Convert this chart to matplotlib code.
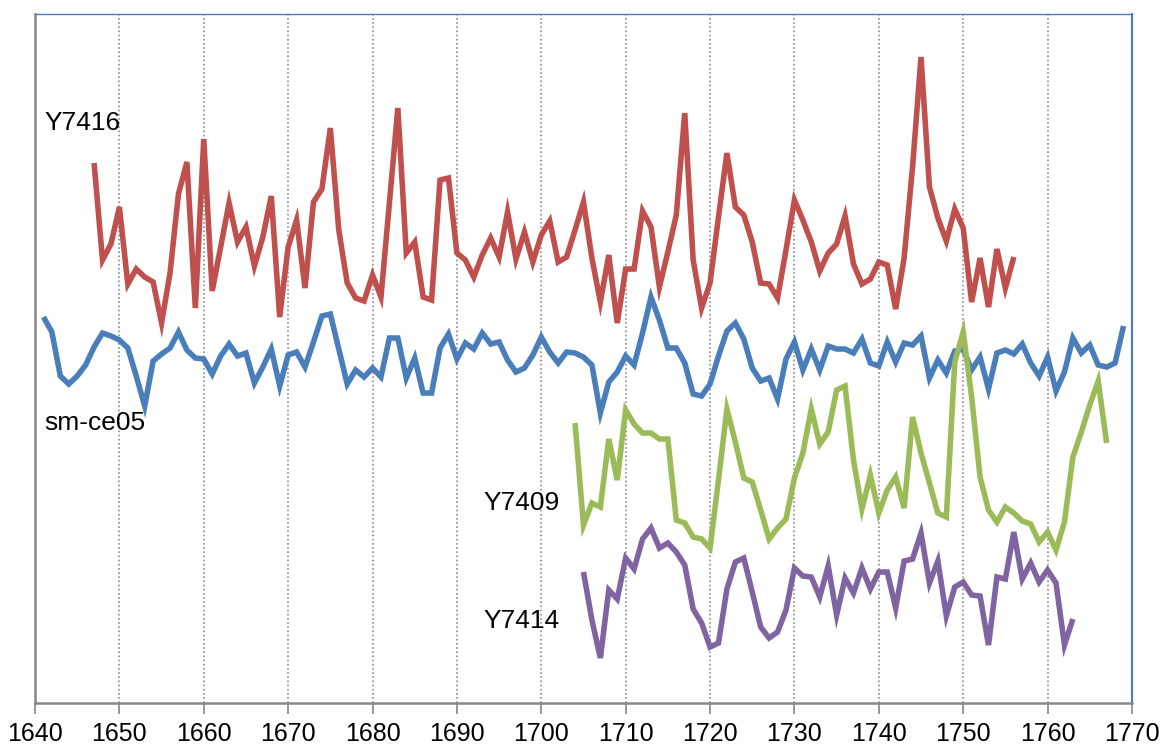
import matplotlib
matplotlib.use("Agg")
import matplotlib.pyplot as plt
import numpy as np

# -----------------------------------
# SERIES DATA (index units, offset per record)
# -----------------------------------

y7416_start = 1647
y7416 = [
    54.0, 44.3, 45.9, 49.6, 41.9, 43.4, 42.6, 42.1, 38.0, 43.0,
    50.9, 54.1, 39.5, 56.4, 41.2, 45.6, 50.0, 46.1, 47.6, 43.7,
    46.6, 50.7, 38.6, 45.6, 48.3, 41.5, 50.1, 51.4, 57.5, 47.3,
    42.0, 40.5, 40.2, 42.8, 40.6, 50.0, 59.5, 45.0, 46.1, 40.6,
    40.3, 52.3, 52.5, 45.0, 44.3, 42.6, 44.8, 46.5, 44.6, 49.1,
    44.4, 47.1, 44.1, 46.8, 48.2, 44.1, 44.6, 47.3, 50.1, 44.5,
    40.1, 44.8, 38.0, 43.4, 43.4, 49.2, 47.6, 41.6, 45.1, 48.8,
    59.0, 44.3, 39.5, 42.0, 48.6, 55.0, 49.6, 48.8, 46.1, 42.0,
    41.9, 40.5, 45.3, 50.3, 48.3, 46.1, 43.2, 45.0, 45.9, 48.7,
    43.9, 41.9, 42.4, 44.1, 43.8, 39.4, 44.5, 53.6, 64.6, 51.6,
    48.5, 46.2, 49.4, 47.5, 40.1, 44.5, 39.6, 45.4, 41.5, 44.6,
]

smce05_start = 1641
smce05 = [
    38.6, 37.1, 32.7, 31.9, 32.7, 33.8, 35.6, 37.0, 36.7, 36.3,
    35.5, 32.7, 29.7, 34.2, 34.9, 35.5, 37.1, 35.3, 34.5, 34.4,
    32.9, 34.7, 35.9, 34.7, 35.0, 32.0, 33.6, 35.4, 31.7, 34.8,
    35.1, 33.6, 36.1, 38.7, 38.9, 35.4, 31.9, 33.3, 32.6, 33.5,
    32.6, 36.5, 36.5, 32.5, 34.5, 31.0, 31.0, 35.5, 36.9, 34.4,
    36.0, 35.4, 37.0, 35.9, 36.1, 34.3, 33.1, 33.5, 34.8, 36.6,
    35.1, 34.0, 35.1, 35.0, 34.6, 33.8, 29.0, 32.1, 33.1, 34.7,
    33.8, 37.0, 40.6, 38.3, 35.5, 35.5, 34.0, 30.9, 30.7, 31.9,
    34.7, 37.2, 38.0, 36.4, 33.5, 32.2, 32.5, 30.4, 34.4, 36.1,
    33.3, 35.4, 33.3, 35.7, 35.4, 35.4, 35.0, 36.4, 34.0, 33.7,
    36.1, 34.1, 36.0, 35.8, 36.7, 32.5, 34.3, 33.0, 35.2, 35.4,
    33.3, 34.6, 31.4, 35.0, 35.3, 34.9, 35.9, 34.0, 32.7, 34.6,
    31.2, 33.1, 36.5, 35.0, 35.8, 33.8, 33.6, 34.0, 37.7,
]

y7409_start = 1704
y7409 = [
    28.0, 17.8, 20.0, 19.6, 26.4, 22.3, 29.3, 27.9, 27.0, 27.0,
    26.4, 26.4, 18.3, 18.0, 16.6, 16.4, 15.5, 22.3, 29.4, 26.1,
    22.5, 22.1, 19.3, 16.4, 17.5, 18.4, 22.5, 25.0, 29.4, 25.9,
    27.1, 31.3, 31.7, 24.3, 19.4, 22.8, 19.0, 21.3, 22.6, 19.5,
    28.6, 25.0, 22.0, 19.0, 18.6, 34.1, 37.1, 30.6, 22.6, 19.3,
    18.1, 19.6, 19.0, 18.2, 17.9, 16.1, 17.1, 15.3, 18.1, 24.6,
    27.1, 29.8, 32.2, 26.0,
]

y7414_start = 1705
y7414 = [
    13.1, 8.3, 4.5, 11.3, 10.4, 14.5, 13.4, 16.4, 17.5, 15.5,
    16.0, 15.1, 13.8, 9.4, 8.0, 5.6, 6.0, 11.4, 14.1, 14.5,
    11.1, 7.6, 6.5, 7.1, 9.3, 13.5, 12.7, 12.6, 10.6, 13.7,
    8.8, 12.5, 11.0, 13.5, 11.4, 13.1, 13.1, 9.5, 14.2, 14.4,
    17.0, 12.0, 14.2, 8.7, 11.6, 12.1, 10.8, 10.7, 5.8, 12.6,
    12.4, 17.1, 12.4, 14.0, 12.1, 13.3, 12.0, 5.8, 8.4,
]

series_names = ["Y7416", "sm-ce05", "Y7409", "Y7414"]
series_colors = ["#C0504D", "#4A7EBB", "#9BBB59", "#8064A2"]

# label anchor (year, value) for each series name
label_years = [1641.1, 1641.1, 1693.2, 1693.1]
label_values = [58.0, 28.0, 20.0, 8.2]

x_ticks = np.arange(1640, 1771, 10)

# -----------------------------------
# FIGURE
# -----------------------------------

fig = plt.figure(figsize=(11.63, 7.46), dpi=100)
ax = fig.add_axes([0.0301, 0.0576, 0.9432, 0.9236])

series = [
    (y7416_start, y7416),
    (smce05_start, smce05),
    (y7409_start, y7409),
    (y7414_start, y7414),
]

for (start, values), color in zip(series, series_colors):
    years = np.arange(start, start + len(values))
    ax.plot(
        years,
        values,
        color=color,
        linewidth=4.0,
        solid_joinstyle="miter",
        solid_capstyle="butt",
        zorder=3
    )

# -----------------------------------
# SERIES LABELS
# -----------------------------------

for name, lx, ly in zip(series_names, label_years, label_values):
    ax.text(
        lx,
        ly,
        name,
        ha="left",
        va="center",
        fontsize=19,
        family=["Liberation Sans", "DejaVu Sans"],
        color="black"
    )

# -----------------------------------
# AXES
# -----------------------------------

ax.set_xlim(1640, 1770)
ax.set_ylim(0, 68.9)

ax.set_xticks(x_ticks)
ax.set_xticklabels([str(t) for t in x_ticks])
ax.set_yticks([])

ax.tick_params(
    axis="x",
    direction="out",
    length=8,
    width=1.2,
    color="#888888",
    pad=6,
    labelsize=18
)
for lbl in ax.get_xticklabels():
    lbl.set_family(["Liberation Sans Narrow", "Liberation Sans", "DejaVu Sans"])

for t in x_ticks[1:-1]:
    ax.axvline(
        t,
        color="#8c8c8c",
        linestyle=(0, (1, 1.5)),
        linewidth=1.2,
        zorder=1
    )

ax.spines["left"].set_color("#888888")
ax.spines["bottom"].set_color("#888888")
ax.spines["left"].set_linewidth(1.8)
ax.spines["bottom"].set_linewidth(1.8)
ax.spines["top"].set_color("#4A7EBB")
ax.spines["right"].set_color("#4A7EBB")
ax.spines["top"].set_linewidth(1.0)
ax.spines["right"].set_linewidth(1.5)

fig.savefig("out.png", dpi=100)
